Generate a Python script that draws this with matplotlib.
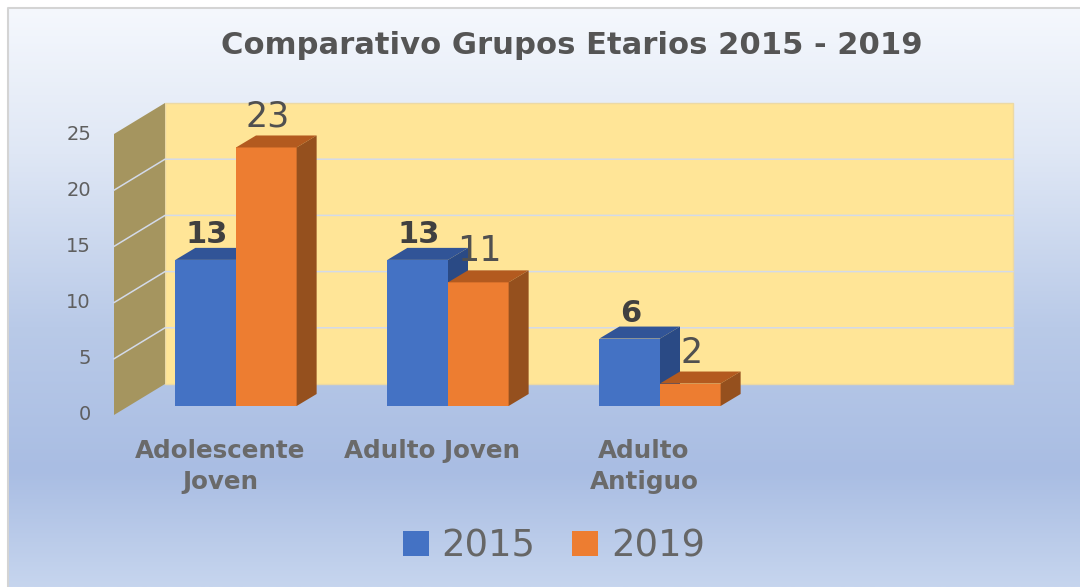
import numpy as np
from matplotlib import pyplot as plt
from matplotlib.colors import LinearSegmentedColormap
from matplotlib.patches import Polygon, Rectangle

categories = ['Adolescente\nJoven', 'Adulto Joven', 'Adulto\nAntiguo']
values_2015 = [13, 13, 6]
values_2019 = [23, 11, 2]
y_ticks = [0, 5, 10, 15, 20, 25]
n_slots = 4

W, H = 1080, 587
fig = plt.figure(figsize=(W / 100, H / 100), dpi=100, facecolor='white')

# panel background, vertical gradient
bg = fig.add_axes([0, 0, 1, 1])
bg.set_xlim(0, W)
bg.set_ylim(H, 0)
bg.axis('off')
cmap = LinearSegmentedColormap.from_list('panel', [
    (0.0, '#f5f8fd'), (0.25, '#dfe7f5'), (0.55, '#b9cae8'),
    (0.80, '#a9bde3'), (1.0, '#c6d5ee')])
grad = np.linspace(0, 1, 256).reshape(-1, 1)
bg.imshow(grad, cmap=cmap, extent=[9, W, H, 9], aspect='auto', zorder=0)
bg.set_xlim(0, W)
bg.set_ylim(H, 0)
bg.plot([8, 8, W], [H, 8, 8], color='#d4d4d4', lw=1.5, zorder=1)

# main axes sits on the plane of the bars
px_left, px_right, px_base = 130, 978, 406
unit_y = 11.24
ax = fig.add_axes([px_left / W, 1 - px_base / H,
                   (px_right - px_left) / W, 25 * unit_y / H])
ax.set_xlim(-0.5, n_slots - 0.5)
ax.set_ylim(0, 25)
ax.axis('off')
ax.patch.set_alpha(0)
unit_x = (px_right - px_left) / n_slots


def dx(px):
    return px / unit_x


def dy(px):
    return px / unit_y


x0, x1 = ax.get_xlim()
# offsets of the back wall and the front edge, from the bar plane
bx, by = dx(35), dy(22)
fx, fy = dx(-16), dy(-9)

ax.add_patch(Rectangle((x0 + bx, by), x1 - x0, 25, fc='#ffe597', ec='#ecd9a5',
                       lw=1, clip_on=False, zorder=1))
ax.add_patch(Polygon([(x0 + fx, fy), (x0 + bx, by), (x0 + bx, 25 + by), (x0 + fx, 25 + fy)],
                     fc='#a5955f', ec='none', clip_on=False, zorder=1))
for t in y_ticks[1:-1]:
    ax.plot([x0 + fx, x0 + bx, x1 + bx], [t + fy, t + by, t + by], color='#d3dae9',
            lw=1.1, clip_on=False, zorder=2)

for t in y_ticks:
    ax.text(x0 + fx - dx(23), t + fy, str(t), ha='right', va='center', fontsize=14,
            color='#5f5f5f', clip_on=False)


def draw_series(pos, vals, front, top, side, z):
    bars = ax.bar(pos, vals, width=0.286, align='edge', color=front, zorder=z, clip_on=False)
    for b in bars:
        l, r, h = b.get_x(), b.get_x() + b.get_width(), b.get_height()
        ax.add_patch(Polygon([(l, h), (r, h), (r + dx(20), h + dy(12)), (l + dx(20), h + dy(12))],
                             fc=top, ec='none', clip_on=False, zorder=z))
        ax.add_patch(Polygon([(r, 0), (r + dx(20), dy(12)), (r + dx(20), h + dy(12)), (r, h)],
                             fc=side, ec='none', clip_on=False, zorder=z))
    return bars


xs = np.arange(len(categories))
bars1 = draw_series(xs - 0.286, values_2015, '#4472c4', '#315497', '#2a4a85', 3)
bars2 = draw_series(xs, values_2019, '#ed7d31', '#b35a1f', '#95501e', 4)

for b in bars1:
    ax.text(b.get_x() + b.get_width() / 2 + dx(1), b.get_height() + dy(17), str(b.get_height()),
            ha='center', va='baseline', fontsize=22, fontweight='bold', color='#404040', zorder=6)
for b in bars2:
    ax.text(b.get_x() + b.get_width() / 2 + dx(1), b.get_height() + dy(21), str(b.get_height()),
            ha='center', va='baseline', fontsize=25, color='#505050', zorder=6)

for i, c in enumerate(categories):
    ax.text(i + fx, -dy(33), c, ha='center', va='top', fontsize=17.7, fontweight='bold',
            color='#6a6a6a', linespacing=1.38, clip_on=False)

fig.text(572 / W, 1 - 46 / H, 'Comparativo Grupos Etarios 2015 - 2019', ha='center', va='center',
         fontsize=22.1, fontweight='bold', color='#555555')

fig.legend([bars1, bars2], ['2015', '2019'], loc='center', bbox_to_anchor=(554 / W, 1 - 546 / H),
           ncols=2, frameon=False, fontsize=26.6, labelcolor='#666666', handlelength=0.7,
           handleheight=0.65, handletextpad=0.35, columnspacing=1.0, borderpad=0)

plt.savefig('out.png', dpi=100)
